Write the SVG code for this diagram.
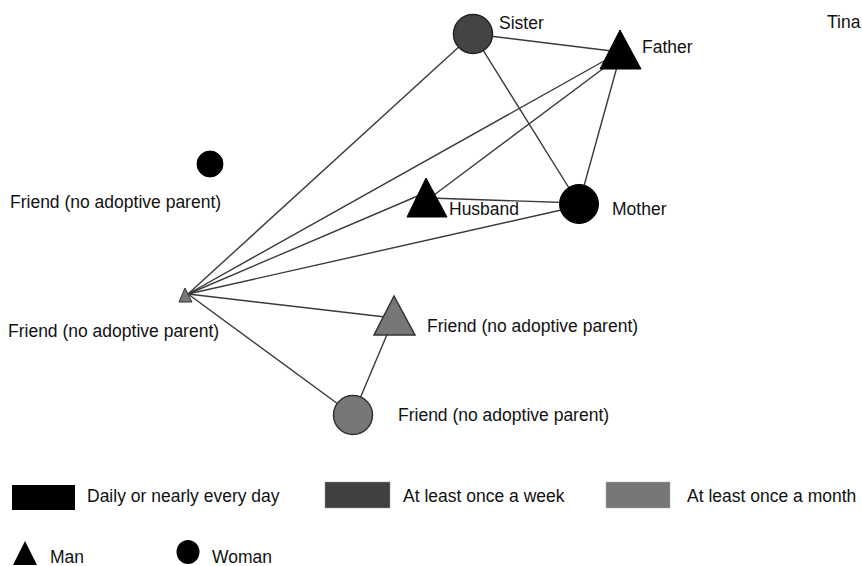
<svg xmlns="http://www.w3.org/2000/svg" width="862" height="566" viewBox="0 0 862 566">
<style>
text{font-family:"Liberation Sans",Arial,Helvetica,sans-serif;font-size:17.5px;fill:#111}
.e{stroke:#3a3a3a;stroke-width:1.4;fill:none}
.blk{fill:#000;stroke:#000;stroke-width:1}
.dk{fill:#444;stroke:#222;stroke-width:1.5}
.gr{fill:#777;stroke:#333;stroke-width:1.5}
</style>
<rect width="862" height="566" fill="#fff"/>
<g id="connectors">
<line class="e" x1="188" y1="294" x2="473" y2="34"/>
<line class="e" x1="188" y1="294" x2="620" y2="52"/>
<line class="e" x1="188" y1="294" x2="427" y2="192"/>
<line class="e" x1="188" y1="294" x2="579" y2="206"/>
<line class="e" x1="188" y1="294" x2="394" y2="318"/>
<line class="e" x1="188" y1="294" x2="353" y2="415"/>
<line class="e" x1="394" y1="318" x2="353" y2="415"/>
<line class="e" x1="473" y1="34" x2="620" y2="52"/>
<line class="e" x1="473" y1="34" x2="579" y2="204"/>
<line class="e" x1="620" y1="56" x2="579" y2="204"/>
<line class="e" x1="430" y1="198" x2="620" y2="56"/>
<line class="e" x1="430" y1="198" x2="579" y2="203"/>
</g>
<g id="sister"><circle class="dk" cx="473" cy="34" r="19.5"/><text x="499" y="29">Sister</text></g>
<g id="father"><polygon class="blk" points="620,30 600,69 641,69"/><text x="642" y="53">Father</text></g>
<g id="husband"><polygon class="blk" points="426,178 407,217 447,217"/><text x="449" y="215">Husband</text></g>
<g id="mother"><circle class="blk" cx="579" cy="204" r="19.5"/><text x="612" y="215">Mother</text></g>
<g id="tina"><text x="827" y="28">Tina</text></g>
<g id="friend1"><circle class="blk" cx="210" cy="164" r="13"/><text x="10" y="208">Friend (no adoptive parent)</text></g>
<g id="friend2"><polygon class="gr" points="185,288 179,302 192,302" style="stroke-width:1"/><text x="8" y="337">Friend (no adoptive parent)</text></g>
<g id="friend3"><polygon class="gr" points="394,296 374,335 415,335"/><text x="427" y="332">Friend (no adoptive parent)</text></g>
<g id="friend4"><circle class="gr" cx="353" cy="415" r="19.5"/><text x="398" y="421">Friend (no adoptive parent)</text></g>
<g id="legend">
<rect x="12" y="485" width="63" height="25" fill="#000"/>
<text x="87" y="502">Daily or nearly every day</text>
<rect x="325" y="482" width="65" height="26" fill="#404040" stroke="#999" stroke-width="0.5"/>
<text x="403" y="502">At least once a week</text>
<rect x="606" y="482" width="64" height="26" fill="#777" stroke="#aaa" stroke-width="0.5"/>
<text x="687" y="502">At least once a month</text>
<polygon points="25,541 13,565 37,565" fill="#000"/>
<text x="50" y="563">Man</text>
<ellipse cx="188" cy="552" rx="11.5" ry="12" fill="#000"/>
<text x="212" y="563">Woman</text>
</g>
</svg>
